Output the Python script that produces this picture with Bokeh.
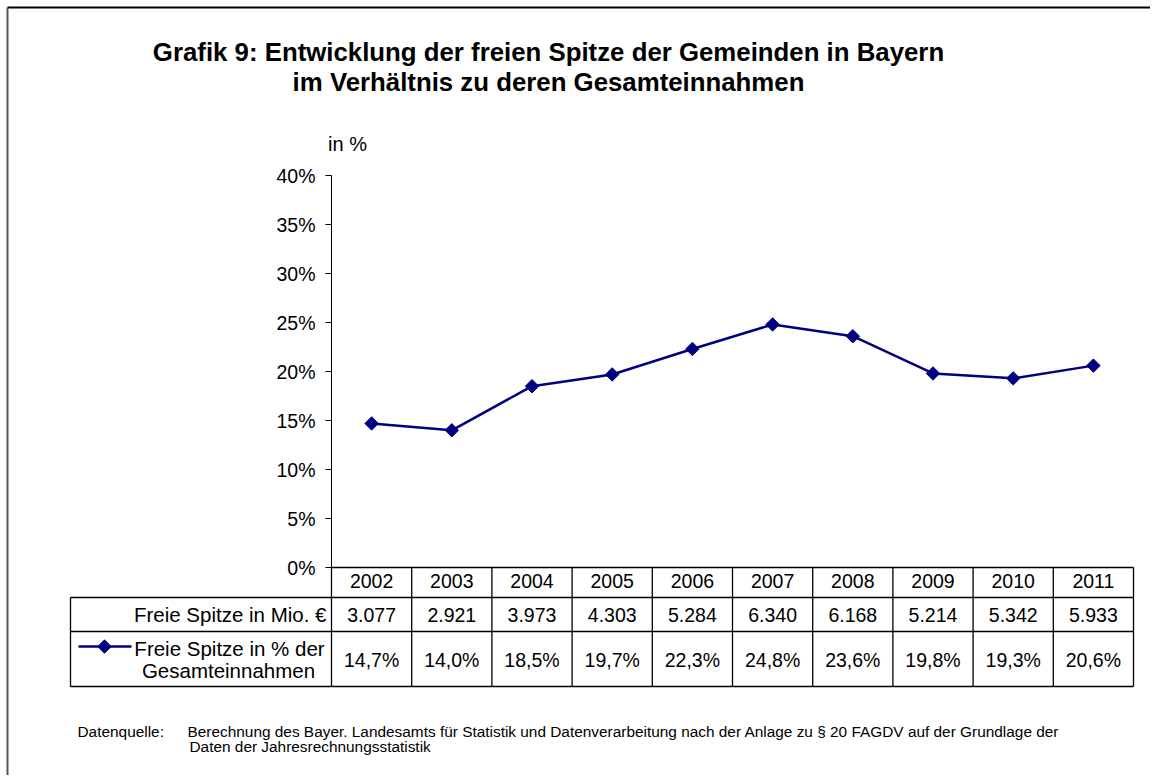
from bokeh.plotting import figure
from bokeh.models import ColumnDataSource, Range1d, FixedTicker, Label
from bokeh.core.properties import value
from bokeh.embed import file_html
from bokeh.resources import INLINE

# ---------------- data ----------------
years = [2002, 2003, 2004, 2005, 2006, 2007, 2008, 2009, 2010, 2011]
freie_spitze_mio = [3077, 2921, 3973, 4303, 5284, 6340, 6168, 5214, 5342, 5933]
freie_spitze_pct = [14.7, 14.0, 18.5, 19.7, 22.3, 24.8, 23.6, 19.8, 19.3, 20.6]
y_ticks = [0, 5, 10, 15, 20, 25, 30, 35, 40]

title_lines = ["Grafik 9: Entwicklung der freien Spitze der Gemeinden in Bayern",
               "im Verhältnis zu deren Gesamteinnahmen"]
y_label = "in %"
row1_label = "Freie Spitze in Mio. €"
row2_label = ["Freie Spitze in % der", "Gesamteinnahmen"]
source_key = "Datenquelle:"
source_lines = ["Berechnung des Bayer. Landesamts für Statistik und Datenverarbeitung nach der Anlage zu § 20 FAGDV auf der Grundlage der",
                "Daten der Jahresrechnungsstatistik"]

# ---------------- layout (canvas pixels) ----------------
W, H = 1150, 775
L, R, T, B = 331, 1133, 175, 567          # plot area of the chart
X0, X1 = years[0] - 0.5, years[-1] + 0.5
Y0, Y1 = y_ticks[0], y_ticks[-1]
CW = (R - L) / (X1 - X0)
PY = (B - T) / (Y1 - Y0)

def X(px):
    return X0 + (px - L) / CW

def Y(py):
    return Y0 + (B - py) / PY

FONT = "Liberation Sans"
FS = "19.5px"
NAVY = "#000080"

p = figure(width=W, height=H, output_backend="svg", toolbar_location=None,
           x_range=Range1d(X(0), X(W)), y_range=Range1d(Y(H), Y(0)), min_border=0)
p.outline_line_color = None
p.grid.visible = False
p.background_fill_color = "white"
p.border_fill_color = "white"

# y axis
ya = p.yaxis[0]
ya.fixed_location = X0
ya.bounds = (Y0, Y1)
ya.ticker = FixedTicker(ticks=y_ticks)
ya.major_label_overrides = {t: f"{t}%" for t in y_ticks}
ya.minor_tick_line_color = None
ya.major_tick_in = 0
ya.major_tick_out = 6
ya.major_label_standoff = 10
ya.axis_line_color = "black"
ya.major_tick_line_color = "black"
ya.major_label_text_font = FONT
ya.major_label_text_font_size = FS
ya.major_label_text_color = "black"

# x axis = year row of the data table
xa = p.xaxis[0]
xa.fixed_location = Y0
xa.bounds = (X0, X1)
xa.ticker = FixedTicker(ticks=years)
xa.major_label_overrides = {y: str(y) for y in years}
xa.major_tick_in = 0
xa.major_tick_out = 0
xa.major_tick_line_color = None
xa.minor_tick_line_color = None
xa.major_label_standoff = 6
xa.axis_line_color = "black"
xa.axis_line_width = 1.3
xa.major_label_text_font = FONT
xa.major_label_text_font_size = FS
xa.major_label_text_color = "black"

# data series
src = ColumnDataSource(dict(x=years, y=freie_spitze_pct))
p.line("x", "y", source=src, line_color=NAVY, line_width=2.5)
p.scatter("x", "y", source=src, marker="square", angle=0.785398, size=9.5,
          fill_color=NAVY, line_color=NAVY)

def label(x, y, text, align="left", size=FS, style="normal"):
    p.add_layout(Label(x=x, y=y, text=text, text_align=align, text_baseline="middle",
                       text_font=FONT, text_font_size=size, text_font_style=style,
                       text_color="black"))

# ---------------- data table ----------------
h_y = [Y(597), Y(631), Y(686)]
p.segment(x0=[X(70)] * 3, y0=h_y, x1=[X1] * 3, y1=h_y, line_color="black", line_width=1.3)
p.segment(x0=[X(70)], y0=[Y(597)], x1=[X(70)], y1=[Y(686)], line_color="black", line_width=1.3)
vx = [X0] + [y + 0.5 for y in years]
p.segment(x0=vx, y0=[Y0] * len(vx), x1=vx, y1=[Y(686)] * len(vx),
          line_color="black", line_width=1.3)

tbl = ColumnDataSource(dict(
    x=years,
    y1=[Y(614)] * len(years),
    y2=[Y(659)] * len(years),
    mio=[f"{v:,}".replace(",", ".") for v in freie_spitze_mio],
    pct=[f"{v:.1f}%".replace(".", ",") for v in freie_spitze_pct],
))
for col, ycol in (("mio", "y1"), ("pct", "y2")):
    p.text(x="x", y=ycol, text=col, source=tbl, text_align="center",
           text_baseline="middle", text_font=value(FONT), text_font_size=value(FS),
           text_color="black")

label(X(326), Y(614), row1_label, align="right", size="20.5px")
label(X(229), Y(648), row2_label[0], align="center", size="20.5px")
label(X(228), Y(670), row2_label[1], align="center", size="20.5px")

# legend key inside the table
p.line(x=[X(78), X(131)], y=[Y(646), Y(646)], line_color=NAVY, line_width=2.5)
p.scatter(x=[X(104)], y=[Y(646)], marker="square", angle=0.785398, size=9.5,
          fill_color=NAVY, line_color=NAVY)

# ---------------- titles and notes ----------------
for i, t in enumerate(title_lines):
    label(X(548), Y(51 + 30 * i), t, align="center", size="25.8px", style="bold")
label(X(347), Y(143), y_label, align="center", size="20px")

label(X(77), Y(731), source_key, size="15.4px")
label(X(187), Y(731), source_lines[0], size="15.4px")
label(X(189), Y(746), source_lines[1], size="15.4px")

# outer frame lines (top and left)
p.segment(x0=[X(7)], y0=[Y(7)], x1=[X(W)], y1=[Y(7)], line_color="black", line_width=2)
p.segment(x0=[X(7)], y0=[Y(7)], x1=[X(7)], y1=[Y(H)], line_color="#555555", line_width=2)

open("out.html", "w").write(file_html(p, INLINE))
